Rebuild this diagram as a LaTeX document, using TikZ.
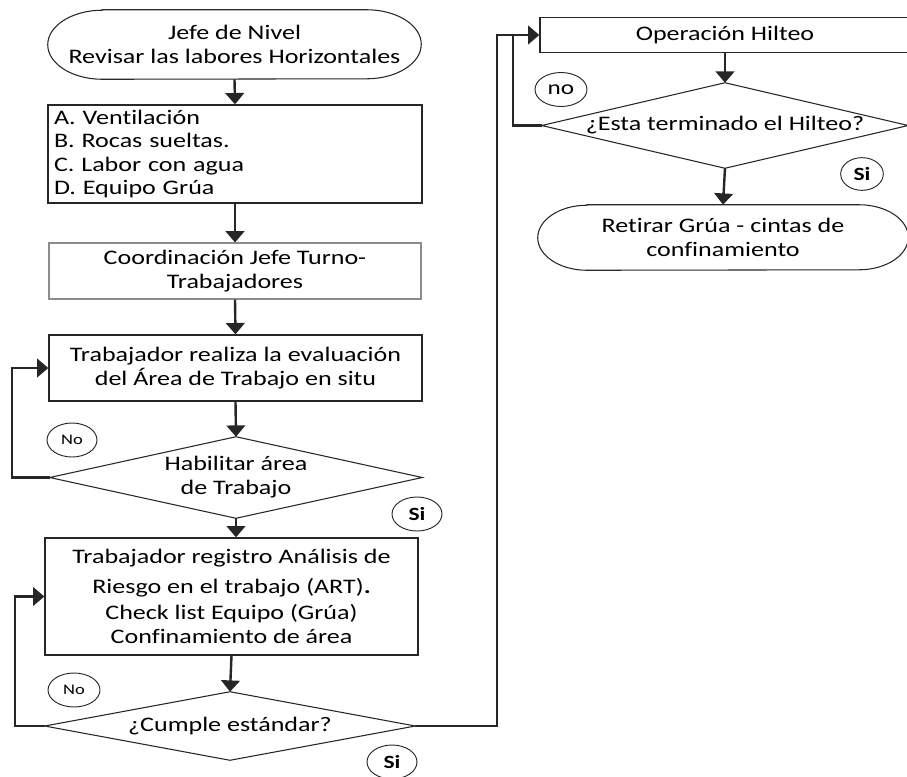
\documentclass[tikz,border=0pt]{standalone}
\usepackage{fontspec}
\setmainfont{Carlito}[FakeStretch=1.26, Ligatures=NoCommon]
\usetikzlibrary{arrows.meta,calc,shapes.geometric}

% outline of a terminal node: straight top and bottom, elliptical ends
\newcommand\termoutline[3]{%
  \draw[border] ($(#1.north west)+(#2,0pt)$) -- ($(#1.north east)+(-#2,0pt)$)
    arc[start angle=90,end angle=-90,x radius=#2,y radius=#3]
    -- ($(#1.south west)+(#2,0pt)$)
    arc[start angle=270,end angle=90,x radius=#2,y radius=#3] -- cycle;}
% outline of a decision node drawn through its four side anchors
\newcommand\decoutline[1]{%
  \draw[border] (#1.north) -- (#1.east) -- (#1.south) -- (#1.west) -- cycle;}

\begin{document}
\begin{tikzpicture}[x=0.75pt,y=-0.75pt,
  txt/.style={font=\fontsize{15.5pt}{18pt}\selectfont, inner sep=0pt, align=center},
  border/.style={draw=black!85, line width=0.8pt},
  boxnode/.style={txt, draw=black!85, line width=1pt},
  frame/.style={txt, draw=none},
  wire/.style={line width=1.8pt, draw=black!85},
  conn/.style={wire, -{Triangle[length=8.5pt,width=14pt]}},
  tag/.style={ellipse, draw=black!85, line width=0.7pt, inner sep=0pt,
    minimum width=37.5pt, minimum height=25.5pt},
  notag/.style={tag, font=\fontsize{11pt}{13pt}\selectfont},
  sitag/.style={tag, font=\fontsize{14pt}{16pt}\selectfont\bfseries},
]
\useasboundingbox (0,0) rectangle (907,776);

% left column
\node[frame, minimum width=279.75pt, minimum height=51.75pt] (start) at (234.5,44.5)
  {Jefe de Nivel\\Revisar las labores Horizontales};
\termoutline{start}{41pt}{25.9pt}

\node[boxnode, minimum width=280.5pt, minimum height=73.5pt, text width=271.5pt,
  align=left, inner xsep=4.5pt, font=\fontsize{15.5pt}{17.6pt}\selectfont] (checks) at (235,154)
  {A. Ventilación\\B. Rocas sueltas.\\C. Labor con agua\\D. Equipo Grúa};

\node[boxnode, draw=black!45, line width=0.8pt, minimum width=279pt, minimum height=42pt] (coord) at (235,271)
  {Coordinación Jefe Turno-\\Trabajadores};

\node[boxnode, minimum width=279.75pt, minimum height=49.5pt] (evalua) at (235.5,368)
  {Trabajador realiza la evaluación\\del Área de Trabajo en situ};

\node[frame, minimum width=279pt, minimum height=60.75pt] (habil) at (236,477.5)
  {Habilitar área\\de Trabajo};
\decoutline{habil}

\node[boxnode, minimum width=279.75pt, minimum height=87.75pt] (registro) at (231.5,596.5)
  {Trabajador registro Análisis de\\[4.5pt]Riesgo en el trabajo (ART)\textbf{.}\\[2pt]Check list Equipo (Grúa)\\Confinamiento de área};

\node[frame, minimum width=277.5pt, minimum height=51pt] (cumple) at (230,726)
  {¿Cumple estándar?};
\decoutline{cumple}

% right column
\node[boxnode, minimum width=277.5pt, minimum height=26.25pt] (hilteo) at (725,35)
  {Operación Hilteo};

\node[frame, minimum width=274.5pt, minimum height=63.75pt] (termina) at (725,125.5)
  {¿Esta terminado el Hilteo?};
\decoutline{termina}

\node[frame, minimum width=277.5pt, minimum height=48.75pt] (retirar) at (723,237.5)
  {Retirar Grúa - cintas de\\confinamiento};
\termoutline{retirar}{37pt}{24.4pt}

% answer tags
\node[notag] (no1) at (72,440) {No};
\node[sitag] (si1) at (417,514) {Si};
\node[notag, minimum width=39pt] (no2) at (74,690) {No};
\node[sitag] (si2) at (392,762) {Si};
\node[tag, font=\fontsize{15pt}{17pt}\selectfont, minimum width=39pt] (no3) at (561,89.5) {no};
\node[sitag, minimum width=32pt, minimum height=24.5pt] (si3) at (862,174) {Si};

% connectors
\draw[conn] (start.south) -- (checks.north);
\draw[conn] (checks.south) -- (coord.north);
\draw[conn] (coord.south) -- (evalua.north);
\draw[conn] (evalua.south) -- (habil.north);
\coordinate (loopa) at (12,368);
\draw[conn] (habil.west) -| (loopa) -- (evalua.west);
\draw[conn] (habil.south) -- (habil.south |- registro.north);
\draw[conn] (registro.south) -- (cumple.north);
\coordinate (loopb) at (15,596.5);
\draw[conn] (cumple.west) -| (loopb) -- (registro.west);
\coordinate (riser) at (497,35);
\draw[conn] (cumple.east) -| (riser) -- (hilteo.west);
\coordinate (joinno) at (513,35);
\draw[wire] (termina.west) -| (joinno);
\draw[conn] (hilteo.south) -- (termina.north);
\draw[conn] (termina.south) -- (retirar.north);
\end{tikzpicture}
\end{document}
